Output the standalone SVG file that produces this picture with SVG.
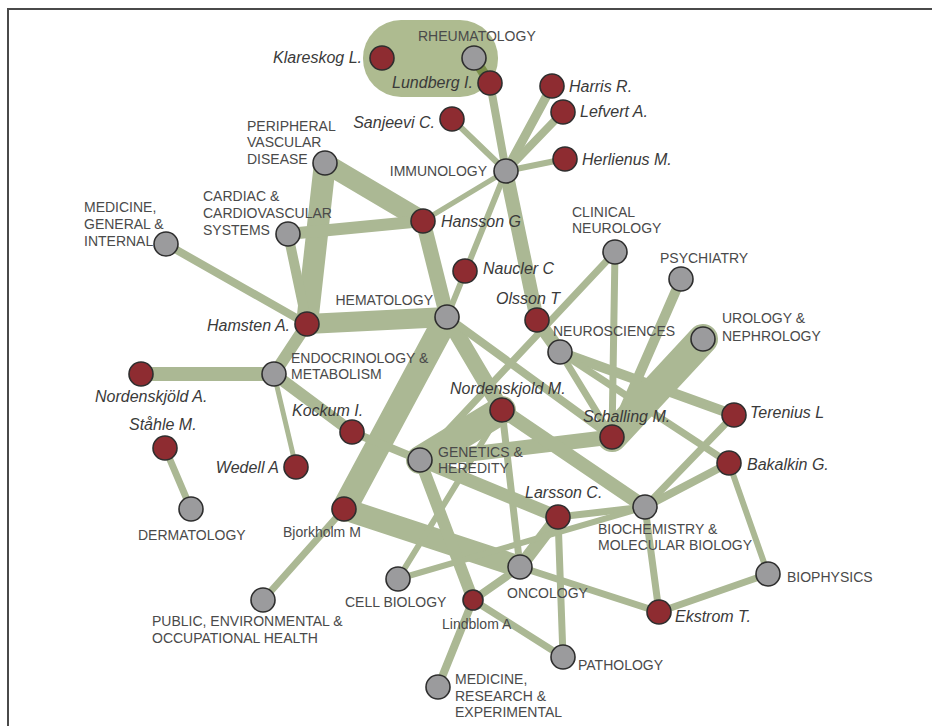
<svg xmlns="http://www.w3.org/2000/svg" width="932" height="726" viewBox="0 0 932 726">
<style>
.e{stroke:#abb894;fill:none;stroke-linecap:round}
.a{fill:#8e2c31;stroke:#2e2e2e;stroke-width:1.6}
.g{fill:#9b9b9d;stroke:#2e2e2e;stroke-width:1.6}
.t{font-family:"Liberation Sans",Arial,sans-serif;font-size:14px;fill:#4a4a4a}
.p{font-family:"Liberation Sans",Arial,sans-serif;font-size:16px;font-style:italic;fill:#3a3a3a}
.q{font-family:"Liberation Sans",Arial,sans-serif;font-size:14px;fill:#4a4a4a}
</style>
<rect width="932" height="726" fill="#fff"/>
<path d="M8,726 V9 H932" fill="none" stroke="#4a4a4a" stroke-width="2"/>
<g id="connectors">
<rect x="363" y="20" width="135" height="77" rx="38" fill="#aebb90"/>
<line x1="474" y1="58" x2="490" y2="83" stroke="#7a8e4a" stroke-width="10" stroke-linecap="round"/>
<line class="e" x1="490" y1="83" x2="506" y2="171" stroke-width="8"/>
<line class="e" x1="552" y1="86" x2="506" y2="171" stroke-width="9"/>
<line class="e" x1="563" y1="112" x2="506" y2="171" stroke-width="8"/>
<line class="e" x1="452" y1="119" x2="506" y2="171" stroke-width="6"/>
<line class="e" x1="565" y1="159" x2="506" y2="171" stroke-width="6"/>
<line class="e" x1="506" y1="171" x2="423" y2="221" stroke-width="5"/>
<line class="e" x1="506" y1="171" x2="447" y2="317" stroke-width="6"/>
<line class="e" x1="506" y1="171" x2="537" y2="320" stroke-width="14"/>
<line class="e" x1="325" y1="163" x2="423" y2="221" stroke-width="20"/>
<line class="e" x1="325" y1="163" x2="307" y2="324" stroke-width="22"/>
<line class="e" x1="288" y1="234" x2="423" y2="221" stroke-width="12"/>
<line class="e" x1="288" y1="234" x2="307" y2="324" stroke-width="10"/>
<line class="e" x1="166" y1="244" x2="307" y2="324" stroke-width="8"/>
<line class="e" x1="423" y1="221" x2="447" y2="317" stroke-width="15"/>
<line class="e" x1="307" y1="324" x2="447" y2="317" stroke-width="20"/>
<line class="e" x1="307" y1="324" x2="274" y2="374" stroke-width="12"/>
<line class="e" x1="141" y1="374" x2="274" y2="374" stroke-width="14"/>
<line class="e" x1="274" y1="374" x2="352" y2="432" stroke-width="12"/>
<line class="e" x1="274" y1="374" x2="296" y2="467" stroke-width="5"/>
<line class="e" x1="165" y1="448" x2="191" y2="509" stroke-width="7"/>
<line class="e" x1="447" y1="317" x2="344" y2="509" stroke-width="25"/>
<line class="e" x1="344" y1="509" x2="263" y2="600" stroke-width="7"/>
<line class="e" x1="344" y1="509" x2="520" y2="567" stroke-width="22"/>
<line class="e" x1="420" y1="460" x2="352" y2="432" stroke-width="8"/>
<line class="e" x1="447" y1="317" x2="502" y2="410" stroke-width="16"/>
<line class="e" x1="447" y1="317" x2="612" y2="437" stroke-width="8"/>
<line class="e" x1="537" y1="320" x2="560" y2="352" stroke-width="14"/>
<line class="e" x1="560" y1="352" x2="612" y2="437" stroke-width="7"/>
<line class="e" x1="560" y1="352" x2="734" y2="415" stroke-width="10"/>
<line class="e" x1="560" y1="352" x2="729" y2="463" stroke-width="7"/>
<line class="e" x1="615" y1="252" x2="612" y2="437" stroke-width="7"/>
<line class="e" x1="615" y1="252" x2="420" y2="460" stroke-width="7"/>
<line class="e" x1="681" y1="279" x2="612" y2="437" stroke-width="10"/>
<line class="e" x1="703" y1="339" x2="612" y2="437" stroke-width="30"/>
<line class="e" x1="420" y1="460" x2="612" y2="437" stroke-width="15"/>
<line class="e" x1="420" y1="460" x2="502" y2="410" stroke-width="28"/>
<line class="e" x1="502" y1="410" x2="645" y2="507" stroke-width="14"/>
<line class="e" x1="502" y1="410" x2="520" y2="567" stroke-width="7"/>
<line class="e" x1="420" y1="460" x2="558" y2="517" stroke-width="13"/>
<line class="e" x1="420" y1="460" x2="473" y2="600" stroke-width="12"/>
<line class="e" x1="558" y1="517" x2="645" y2="507" stroke-width="7"/>
<line class="e" x1="558" y1="517" x2="520" y2="567" stroke-width="13"/>
<line class="e" x1="558" y1="517" x2="563" y2="657" stroke-width="7"/>
<line class="e" x1="520" y1="567" x2="473" y2="600" stroke-width="8"/>
<line class="e" x1="520" y1="567" x2="659" y2="612" stroke-width="7"/>
<line class="e" x1="645" y1="507" x2="734" y2="415" stroke-width="7"/>
<line class="e" x1="645" y1="507" x2="729" y2="463" stroke-width="8"/>
<line class="e" x1="645" y1="507" x2="659" y2="612" stroke-width="7"/>
<line class="e" x1="729" y1="463" x2="768" y2="574" stroke-width="6"/>
<line class="e" x1="659" y1="612" x2="768" y2="574" stroke-width="7"/>
<line class="e" x1="473" y1="600" x2="438" y2="687" stroke-width="8"/>
<line class="e" x1="473" y1="600" x2="563" y2="657" stroke-width="7"/>
<line class="e" x1="398" y1="579" x2="502" y2="410" stroke-width="6"/>
<line class="e" x1="398" y1="579" x2="645" y2="507" stroke-width="6"/>
</g>
<g id="n-klareskog"><circle class="a" cx="382" cy="58" r="12"/><text class="p" x="362" y="63" text-anchor="end">Klareskog L.</text></g>
<g id="n-rheumatology"><circle class="g" cx="474" cy="58" r="12"/><text class="t" x="418" y="41">RHEUMATOLOGY</text></g>
<g id="n-lundberg"><circle class="a" cx="490" cy="83" r="12"/><text class="p" x="473" y="88" text-anchor="end">Lundberg I.</text></g>
<g id="n-harris"><circle class="a" cx="552" cy="86" r="12"/><text class="p" x="569" y="92">Harris R.</text></g>
<g id="n-lefvert"><circle class="a" cx="563" cy="112" r="12"/><text class="p" x="580" y="117">Lefvert A.</text></g>
<g id="n-sanjeevi"><circle class="a" cx="452" cy="119" r="12"/><text class="p" x="435" y="128" text-anchor="end">Sanjeevi C.</text></g>
<g id="n-herlienus"><circle class="a" cx="565" cy="159" r="12"/><text class="p" x="582" y="165">Herlienus M.</text></g>
<g id="n-immunology"><circle class="g" cx="506" cy="171" r="12"/><text class="t" x="487" y="176" text-anchor="end">IMMUNOLOGY</text></g>
<g id="n-pvd"><circle class="g" cx="325" cy="163" r="12"/><text class="t" x="247" y="131">PERIPHERAL</text><text class="t" x="247" y="147">VASCULAR</text><text class="t" x="247" y="164">DISEASE</text></g>
<g id="n-hansson"><circle class="a" cx="423" cy="221" r="12"/><text class="p" x="441" y="227">Hansson G</text></g>
<g id="n-cardiac"><circle class="g" cx="288" cy="234" r="12"/><text class="t" x="203" y="201">CARDIAC &amp;</text><text class="t" x="203" y="218">CARDIOVASCULAR</text><text class="t" x="203" y="235">SYSTEMS</text></g>
<g id="n-medgen"><circle class="g" cx="166" cy="244" r="12"/><text class="t" x="84" y="212">MEDICINE,</text><text class="t" x="84" y="229">GENERAL &amp;</text><text class="t" x="84" y="246">INTERNAL</text></g>
<g id="n-clinneuro"><circle class="g" cx="615" cy="252" r="12"/><text class="t" x="572" y="217">CLINICAL</text><text class="t" x="572" y="233">NEUROLOGY</text></g>
<g id="n-naucler"><circle class="a" cx="465" cy="271" r="12"/><text class="p" x="483" y="274">Naucler C</text></g>
<g id="n-psychiatry"><circle class="g" cx="681" cy="279" r="12"/><text class="t" x="660" y="263">PSYCHIATRY</text></g>
<g id="n-hematology"><circle class="g" cx="447" cy="317" r="12"/><text class="t" x="433" y="305" text-anchor="end">HEMATOLOGY</text></g>
<g id="n-olsson"><circle class="a" cx="537" cy="320" r="12"/><text class="p" x="496" y="304">Olsson T</text></g>
<g id="n-hamsten"><circle class="a" cx="307" cy="324" r="12"/><text class="p" x="290" y="331" text-anchor="end">Hamsten A.</text></g>
<g id="n-neuro"><circle class="g" cx="560" cy="352" r="12"/><text class="t" x="553" y="336">NEUROSCIENCES</text></g>
<g id="n-urology"><circle class="g" cx="703" cy="339" r="12"/><text class="t" x="722" y="323">UROLOGY &amp;</text><text class="t" x="722" y="341">NEPHROLOGY</text></g>
<g id="n-norda"><circle class="a" cx="141" cy="374" r="12"/><text class="p" x="95" y="402">Nordenskjöld A.</text></g>
<g id="n-endo"><circle class="g" cx="274" cy="374" r="12"/><text class="t" x="291" y="363">ENDOCRINOLOGY &amp;</text><text class="t" x="291" y="379">METABOLISM</text></g>
<g id="n-nordm"><circle class="a" cx="502" cy="410" r="12"/><text class="p" x="450" y="394">Nordenskjold M.</text></g>
<g id="n-kockum"><circle class="a" cx="352" cy="432" r="12"/><text class="p" x="292" y="416">Kockum I.</text></g>
<g id="n-terenius"><circle class="a" cx="734" cy="415" r="12"/><text class="p" x="750" y="418">Terenius L</text></g>
<g id="n-schalling"><circle class="a" cx="612" cy="437" r="12"/><text class="p" x="583" y="422">Schalling M.</text></g>
<g id="n-stahle"><circle class="a" cx="165" cy="448" r="12"/><text class="p" x="129" y="430">Ståhle M.</text></g>
<g id="n-genetics"><circle class="g" cx="420" cy="460" r="12"/><text class="t" x="438" y="457">GENETICS &amp;</text><text class="t" x="438" y="473">HEREDITY</text></g>
<g id="n-bakalkin"><circle class="a" cx="729" cy="463" r="12"/><text class="p" x="747" y="470">Bakalkin G.</text></g>
<g id="n-wedell"><circle class="a" cx="296" cy="467" r="12"/><text class="p" x="279" y="473" text-anchor="end">Wedell A</text></g>
<g id="n-bjorkholm"><circle class="a" cx="344" cy="509" r="12"/><text class="q" x="283" y="537">Bjorkholm M</text></g>
<g id="n-dermatology"><circle class="g" cx="191" cy="509" r="12"/><text class="t" x="138" y="540">DERMATOLOGY</text></g>
<g id="n-larsson"><circle class="a" cx="558" cy="517" r="12"/><text class="p" x="525" y="498">Larsson C.</text></g>
<g id="n-biochem"><circle class="g" cx="645" cy="507" r="12"/><text class="t" x="598" y="534">BIOCHEMISTRY &amp;</text><text class="t" x="598" y="550">MOLECULAR BIOLOGY</text></g>
<g id="n-oncology"><circle class="g" cx="520" cy="567" r="12"/><text class="t" x="507" y="598">ONCOLOGY</text></g>
<g id="n-cellbio"><circle class="g" cx="398" cy="579" r="12"/><text class="t" x="345" y="607">CELL BIOLOGY</text></g>
<g id="n-biophysics"><circle class="g" cx="768" cy="574" r="12"/><text class="t" x="787" y="582">BIOPHYSICS</text></g>
<g id="n-public"><circle class="g" cx="263" cy="600" r="12"/><text class="t" x="152" y="626">PUBLIC, ENVIRONMENTAL &amp;</text><text class="t" x="152" y="643">OCCUPATIONAL HEALTH</text></g>
<g id="n-lindblom"><circle class="a" cx="473" cy="600" r="10"/><text class="q" x="442" y="629">Lindblom A</text></g>
<g id="n-ekstrom"><circle class="a" cx="659" cy="612" r="12"/><text class="p" x="675" y="622">Ekstrom T.</text></g>
<g id="n-pathology"><circle class="g" cx="563" cy="657" r="12"/><text class="t" x="578" y="670">PATHOLOGY</text></g>
<g id="n-medres"><circle class="g" cx="438" cy="687" r="12"/><text class="t" x="455" y="684">MEDICINE,</text><text class="t" x="455" y="701">RESEARCH &amp;</text><text class="t" x="455" y="717">EXPERIMENTAL</text></g>
</svg>
